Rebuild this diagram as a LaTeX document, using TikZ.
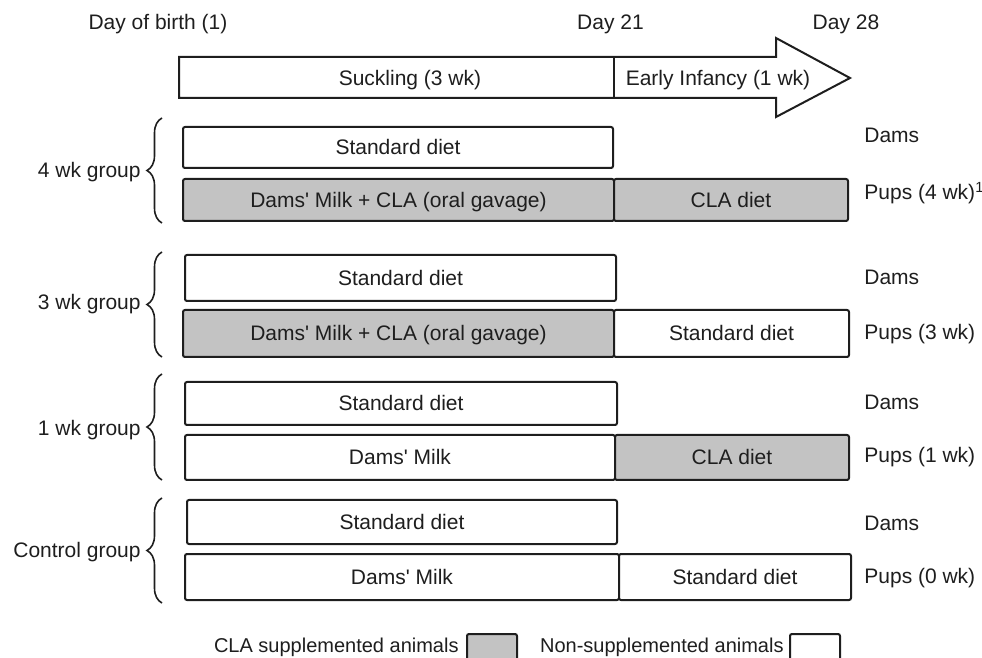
\documentclass[tikz,border=0pt]{standalone}
\usepackage{fontspec}
\setmainfont{Liberation Sans}
\usetikzlibrary{decorations.pathreplacing}
\definecolor{clagray}{RGB}{195,195,195}
\definecolor{ink}{RGB}{30,30,30}
\newcommand{\apo}{\textquotesingle}
\tikzset{
  txt/.style={font=\fontsize{10.5}{12}\selectfont, text=ink, inner sep=0pt, text height=9.5pt, text depth=2pt},
  legtxt/.style={font=\fontsize{10}{12}\selectfont, text=ink, inner sep=0pt, text height=9pt, text depth=2pt},
  box/.style={draw=ink, line width=1pt, rounded corners=1pt, rectangle, inner sep=0pt, txt, fill=white},
  clabox/.style={box, fill=clagray},
  grpbrace/.style={draw=ink, line width=0.8pt, decorate, decoration={brace, amplitude=7.5pt}},
}
\begin{document}
\begin{tikzpicture}[x=0.5pt, y=-0.5pt]
\useasboundingbox (0,0) rectangle (982,658);
\clip (0,0) rectangle (982,658);

% time labels
\node[txt] (birth) at (158,22) {Day of birth (1)};
\node[txt] (d21) at (610.5,22) {Day 21};
\node[txt] (d28) at (846,22) {Day 28};

% timeline arrow
\draw[draw=ink, line width=1pt, line join=miter, fill=white]
  (179,57) -- (776,57) -- (776,38) -- (850,78) -- (776,117) -- (776,98) -- (179,98) -- cycle;
\coordinate (divtop) at (614,57);
\coordinate (divbot) at (614,98);
\draw[draw=ink, line width=1pt] (divtop) -- (divbot);
\node[txt] (suck) at (410,78) {Suckling (3 wk)};
\node[txt] (early) at (718,78) {Early Infancy (1 wk)};

% 4 wk group
\node[box, minimum width=215pt, minimum height=20.5pt] (g4d) at (398,147.5) {Standard diet};
\node[clabox, minimum width=215.5pt, minimum height=21pt] (g4pa) at (398.5,200) {Dams\apo{} Milk + CLA (oral gavage)};
\node[clabox, minimum width=117pt, minimum height=21pt] (g4pb) at (731,200) {CLA diet};
\coordinate (b4t) at (162,118);
\coordinate (b4b) at (162,223);
\draw[grpbrace] (b4b) -- (b4t);
\node[txt, anchor=east] (g4) at (141,170) {4 wk group};
\node[txt, anchor=base west] (g4dl) at (864,142.5) {Dams};
\node[txt, anchor=base west] (g4pl) at (864,200) {Pups (4 wk)\textsuperscript{1}};

% 3 wk group
\node[box, minimum width=215.5pt, minimum height=23pt] (g3d) at (400.5,278) {Standard diet};
\node[clabox, minimum width=215.5pt, minimum height=23.5pt] (g3pa) at (398.5,333.5) {Dams\apo{} Milk + CLA (oral gavage)};
\node[box, minimum width=117.5pt, minimum height=23.5pt] (g3pb) at (731.5,333.5) {Standard diet};
\coordinate (b3t) at (162,252);
\coordinate (b3b) at (162,357);
\draw[grpbrace] (b3b) -- (b3t);
\node[txt, anchor=east] (g3) at (141,302) {3 wk group};
\node[txt, anchor=base west] (g3dl) at (864,284.5) {Dams};
\node[txt, anchor=base west] (g3pl) at (864,340) {Pups (3 wk)};

% 1 wk group
\node[box, minimum width=216pt, minimum height=21.5pt] (g1d) at (401,403.5) {Standard diet};
\node[box, minimum width=215pt, minimum height=22.5pt] (g1pa) at (400,457.5) {Dams\apo{} Milk};
\node[clabox, minimum width=117pt, minimum height=22.5pt] (g1pb) at (732,457.5) {CLA diet};
\coordinate (b1t) at (162,374);
\coordinate (b1b) at (162,480);
\draw[grpbrace] (b1b) -- (b1t);
\node[txt, anchor=east] (g1) at (141,428) {1 wk group};
\node[txt, anchor=base west] (g1dl) at (864,409.5) {Dams};
\node[txt, anchor=base west] (g1pl) at (864,463) {Pups (1 wk)};

% control group
\node[box, minimum width=215pt, minimum height=22pt] (gcd) at (402,522) {Standard diet};
\node[box, minimum width=217pt, minimum height=23pt] (gcpa) at (402,577) {Dams\apo{} Milk};
\node[box, minimum width=116pt, minimum height=23pt] (gcpb) at (735,577) {Standard diet};
\coordinate (bct) at (162,498);
\coordinate (bcb) at (162,603);
\draw[grpbrace] (bcb) -- (bct);
\node[txt, anchor=east] (gc) at (141,550) {Control group};
\node[txt, anchor=base west] (gcdl) at (864,530.5) {Dams};
\node[txt, anchor=base west] (gcpl) at (864,583) {Pups (0 wk)};

% legend
\node[legtxt, anchor=east] (legcla) at (459,646) {CLA supplemented animals};
\node[clabox, minimum width=25pt, minimum height=24pt] (legclabox) at (492,658) {};
\node[legtxt, anchor=east] (legnon) at (784,646) {Non-supplemented animals};
\node[box, minimum width=25pt, minimum height=24pt] (legnonbox) at (815,658) {};
\end{tikzpicture}
\end{document}
